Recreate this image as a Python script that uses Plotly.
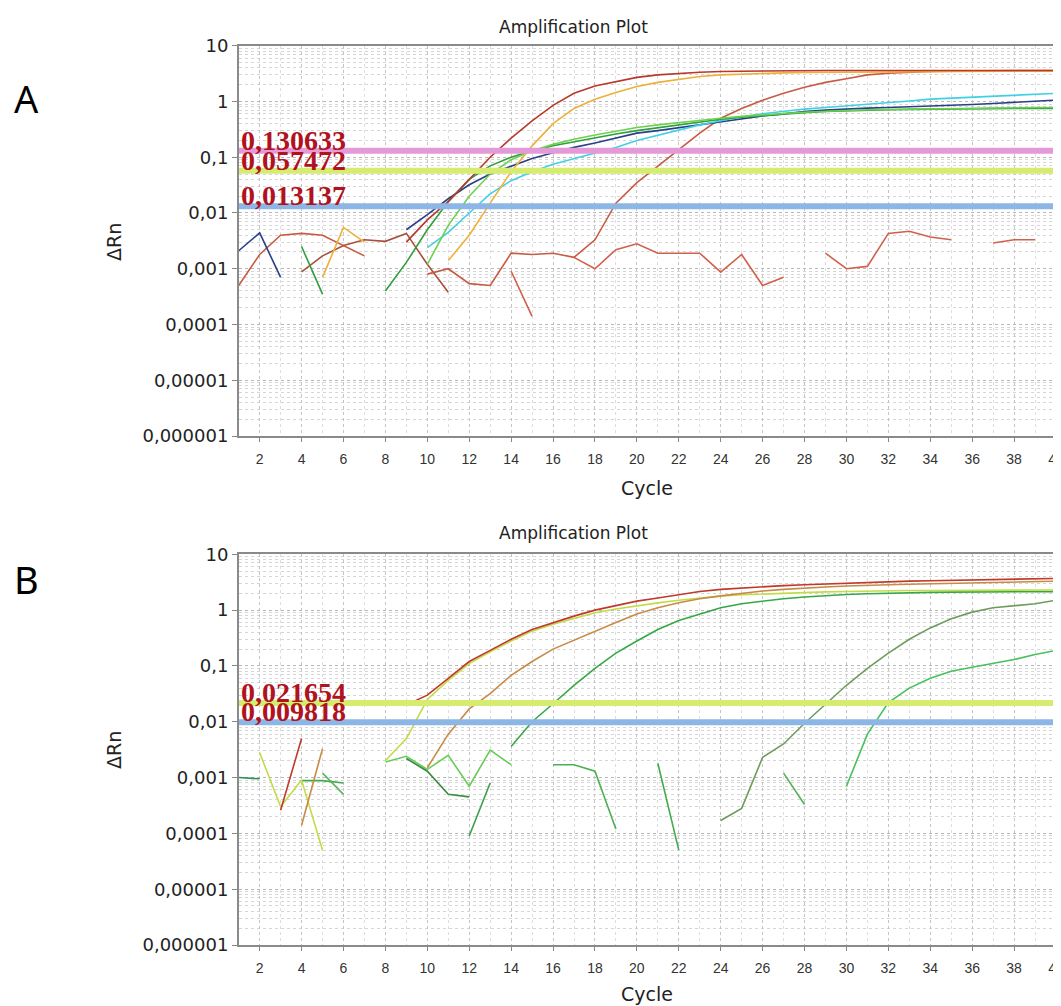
import plotly.graph_objects as go
import math

# page geometry: the figure sits inside the page body (8 px default margin)
OX, OY = 8, 8
WF, HF = 1061 - OX, 1006 - OY
CYCLES = list(range(1, 41))
N = None

# ---------------- Panel A data (ΔRn per cycle, None = not drawn) ----------------
A_NAVY = [0.0021, 0.0044, 0.0007, N, N, N, N, N, 0.005, 0.0093, 0.018, 0.032, 0.05, 0.07, 0.095,
          0.12, 0.15, 0.18, 0.22, 0.27, 0.30, 0.34, 0.38, 0.44, 0.50, 0.55, 0.60, 0.66, 0.70, 0.74,
          0.76, 0.78, 0.80, 0.82, 0.85, 0.88, 0.92, 0.97, 1.02, 1.06]
A_CYAN = [N, N, N, N, N, N, N, N, N, 0.0024, 0.0045, 0.01, 0.022, 0.038, 0.055, 0.075, 0.095, 0.12,
          0.15, 0.20, 0.25, 0.31, 0.38, 0.45, 0.53, 0.60, 0.67, 0.73, 0.78, 0.83, 0.88, 0.95, 1.02,
          1.10, 1.15, 1.20, 1.25, 1.30, 1.35, 1.40]
A_GREEN = [N, N, N, 0.0025, 0.00035, N, N, 0.0004, 0.0013, 0.005, 0.016, 0.04, 0.07, 0.10, 0.13,
           0.16, 0.19, 0.22, 0.26, 0.30, 0.34, 0.38, 0.43, 0.48, 0.52, 0.56, 0.60, 0.63, 0.66, 0.68,
           0.70, 0.71, 0.72, 0.73, 0.73, 0.74, 0.74, 0.75, 0.75, 0.75]
A_LIME = [N, N, N, N, N, N, N, N, N, 0.0012, 0.006, 0.02, 0.05, 0.09, 0.13, 0.17, 0.21, 0.25, 0.29,
          0.34, 0.38, 0.42, 0.46, 0.50, 0.54, 0.58, 0.61, 0.64, 0.67, 0.69, 0.71, 0.72, 0.73, 0.74,
          0.75, 0.76, 0.77, 0.77, 0.78, 0.78]
A_ORANGE = [N, N, N, N, 0.0007, 0.0055, 0.003, N, N, N, 0.0014, 0.004, 0.015, 0.055, 0.16, 0.40,
            0.75, 1.1, 1.45, 1.85, 2.2, 2.5, 2.8, 3.0, 3.1, 3.2, 3.25, 3.3, 3.3, 3.35, 3.35, 3.4,
            3.4, 3.4, 3.45, 3.45, 3.45, 3.5, 3.5, 3.5]
A_DARKRED = [N, N, N, N, N, N, N, N, 0.003, 0.0075, 0.016, 0.04, 0.10, 0.22, 0.45, 0.85, 1.4, 1.9,
             2.3, 2.7, 3.0, 3.2, 3.35, 3.45, 3.5, 3.55, 3.55, 3.55, 3.6, 3.6, 3.6, 3.6, 3.6, 3.6,
             3.6, 3.6, 3.6, 3.6, 3.6, 3.6]
A_BROWN = [N, N, N, 0.00088, 0.0017, 0.0026, 0.0033, 0.0031, 0.0043, 0.0012, 0.00038] + [N] * 29
A_SALMON = [0.0005, 0.0018, 0.004, 0.0043, 0.004, 0.0026, 0.0017, N, N, 0.0008, 0.001, 0.00054,
            0.0005, 0.0019, 0.0018, 0.0019, 0.0016, 0.0033, 0.015, 0.035, 0.07, 0.14, 0.27, 0.5,
            0.75, 1.05, 1.4, 1.8, 2.2, 2.55, 3.0, 3.2, 3.35, 3.45, 3.5, 3.55, 3.55, 3.6, 3.6, 3.6]
A_RED2 = [N] * 13 + [0.0009, 0.00014] + [N] * 25
A_RED3 = [N] * 16 + [0.0016, 0.001, 0.0022, 0.0028, 0.0019, 0.0019, 0.0019, 0.00087, 0.0018,
                     0.0005, 0.0007, N, 0.0019, 0.001, 0.0011, 0.0043, 0.0047, 0.0037, 0.0033, N,
                     0.0029, 0.0033, 0.0033, N]

A_THRESH = [0.130633, 0.057472, 0.013137]
A_THRESH_LABELS = ["0,130633", "0,057472", "0,013137"]

# ---------------- Panel B data ----------------
B_RED = [N, N, 0.00026, 0.005, N, N, N, N, 0.02, 0.03, 0.06, 0.12, 0.19, 0.30, 0.45, 0.60, 0.78,
         1.0, 1.2, 1.45, 1.65, 1.9, 2.15, 2.35, 2.5, 2.65, 2.75, 2.85, 2.95, 3.05, 3.15, 3.25, 3.3,
         3.35, 3.4, 3.42, 3.45, 3.5, 3.6, 3.7]
B_YELLOW = [N, 0.0028, 0.0003, 0.0009, 0.00005, N, N, 0.002, 0.005, 0.025, 0.055, 0.11, 0.18, 0.28,
            0.42, 0.56, 0.72, 0.9, 1.05, 1.2, 1.35, 1.5, 1.65, 1.78, 1.88, 1.95, 2.02, 2.08, 2.12,
            2.16, 2.2, 2.22, 2.24, 2.25, 2.26, 2.27, 2.28, 2.29, 2.3, 2.3]
B_ORANGE = [N, N, N, 0.00014, 0.0033, N, N, N, N, 0.0015, 0.006, 0.017, 0.032, 0.068, 0.12, 0.2,
            0.29, 0.42, 0.6, 0.85, 1.1, 1.35, 1.6, 1.8, 2.0, 2.2, 2.35, 2.5, 2.6, 2.7, 2.8, 2.85,
            2.9, 2.95, 3.0, 3.05, 3.1, 3.15, 3.2, 3.3]
B_GREEN = [N] * 13 + [0.0036, 0.01, 0.021, 0.045, 0.09, 0.17, 0.28, 0.45, 0.65, 0.85, 1.1, 1.3,
                      1.45, 1.6, 1.72, 1.82, 1.9, 1.97, 2.02, 2.05, 2.08, 2.1, 2.11, 2.12, 2.13,
                      2.14, 2.15]
B_OLIVE = [N] * 23 + [0.00017, 0.00028, 0.0023, 0.004, 0.0094, 0.021, 0.045, 0.09, 0.17, 0.3, 0.48,
                      0.7, 0.92, 1.1, 1.2, 1.3, 1.5]
B_LATE = [N] * 29 + [0.0007, 0.006, 0.022, 0.04, 0.06, 0.08, 0.095, 0.11, 0.13, 0.16, 0.19]

# short noise segments of panel B (cycle lists and ΔRn lists)
B_N1_X, B_N1_Y = [1, 2], [0.001, 0.00095]
B_N2_X, B_N2_Y = [4, 5, 6], [0.00088, 0.00088, 0.0008]
B_N3_X, B_N3_Y = [5, 6], [0.0012, 0.0005]
B_N4_X, B_N4_Y = [8, 9, 10, 11, 12, 13, 14], [0.0019, 0.0024, 0.0014, 0.0025, 0.0007, 0.0031, 0.0017]
B_N5_X, B_N5_Y = [9, 10, 11, 12], [0.0022, 0.0013, 0.0005, 0.00045]
B_N6_X, B_N6_Y = [12, 13], [0.00009, 0.0008]
B_N7_X, B_N7_Y = [16, 17, 18, 19], [0.0017, 0.0017, 0.0013, 0.00012]
B_N8_X, B_N8_Y = [21, 22], [0.0018, 0.00005]
B_N9_X, B_N9_Y = [27, 28], [0.0012, 0.00033]

B_THRESH = [0.021654, 0.009818]
B_THRESH_LABELS = ["0,021654", "0,009818"]

Y_TICKVALS = [1e-6, 1e-5, 1e-4, 1e-3, 1e-2, 1e-1, 1, 10]
Y_TICKTEXT = ["0,000001", "0,00001", "0,0001", "0,001", "0,01", "0,1", "1", "10"]
X_TICKVALS = list(range(2, 41, 2))

# ---------------- figure ----------------
fig = go.Figure()


def add_curve(x, y, color, xa, ya, width=1.6):
    fig.add_trace(go.Scatter(x=x, y=y, mode="lines", line=dict(color=color, width=width),
                             connectgaps=False, xaxis=xa, yaxis=ya, hoverinfo="skip"))


top = [
    (A_RED3, "#d0604c"), (A_RED2, "#d0604c"), (A_BROWN, "#a8503a"), (A_SALMON, "#c85a44"),
    (A_NAVY, "#2a3f88"), (A_CYAN, "#3fd0e6"), (A_GREEN, "#2f9e3c"), (A_LIME, "#6ad24e"),
    (A_ORANGE, "#eeb038"), (A_DARKRED, "#b8382a"),
]
for ys, c in top:
    add_curve(CYCLES, ys, c, "x", "y")

bottom_noise = [
    (B_N1_X, B_N1_Y, "#2f8f5a"), (B_N2_X, B_N2_Y, "#3fa84c"), (B_N3_X, B_N3_Y, "#55b85a"),
    (B_N4_X, B_N4_Y, "#66cc55"), (B_N5_X, B_N5_Y, "#3a8a40"), (B_N6_X, B_N6_Y, "#3aa048"),
    (B_N7_X, B_N7_Y, "#4cb050"), (B_N8_X, B_N8_Y, "#44aa4c"), (B_N9_X, B_N9_Y, "#55b055"),
]
for xs, ys, c in bottom_noise:
    add_curve(xs, ys, c, "x2", "y2")

bottom = [
    (B_LATE, "#45c25a"), (B_OLIVE, "#6e9c5a"), (B_GREEN, "#35a845"), (B_YELLOW, "#c2dc48"),
    (B_ORANGE, "#c98a45"), (B_RED, "#c0392b"),
]
for ys, c in bottom:
    add_curve(CYCLES, ys, c, "x2", "y2")

# threshold lines
A_TH_COLORS = ["#e49ad8", "#d6ec70", "#8cb6e6"]
B_TH_COLORS = ["#d6ec70", "#8cb6e6"]
for v, c in zip(A_THRESH, A_TH_COLORS):
    fig.add_trace(go.Scatter(x=[1, 40], y=[v, v], mode="lines", line=dict(color=c, width=6),
                             xaxis="x", yaxis="y", hoverinfo="skip"))
for v, c in zip(B_THRESH, B_TH_COLORS):
    fig.add_trace(go.Scatter(x=[1, 40], y=[v, v], mode="lines", line=dict(color=c, width=6),
                             xaxis="x2", yaxis="y2", hoverinfo="skip"))

LABEL_FONT = dict(family="Liberation Serif", size=28, color="#b0121e", weight="bold")
annots = []
for v, t in zip(A_THRESH, A_THRESH_LABELS):
    annots.append(dict(x=1, y=math.log10(v), xref="x", yref="y", text=t, showarrow=False,
                       xanchor="left", yanchor="bottom", xshift=0, yshift=-7, font=LABEL_FONT))
for v, t in zip(B_THRESH, B_THRESH_LABELS):
    annots.append(dict(x=1, y=math.log10(v), xref="x2", yref="y2", text=t, showarrow=False,
                       xanchor="left", yanchor="bottom", xshift=0, yshift=-7, font=LABEL_FONT))


def px(xs):
    return (xs - OX) / WF


def py(ys):
    return 1 - (ys - OY) / HF


TXT = dict(family="DejaVu Sans", color="#222222")
for yc, yt, ylab, letter, yl in [(27, 488, 242, "A", 98), (533, 994, 750, "B", 579)]:
    annots.append(dict(x=px(573), y=py(yc), xref="paper", yref="paper", text="Amplification Plot",
                       showarrow=False, xanchor="center", yanchor="middle",
                       font=dict(size=17, **TXT)))
    annots.append(dict(x=px(647), y=py(yt), xref="paper", yref="paper", text="Cycle",
                       showarrow=False, xanchor="center", yanchor="middle",
                       font=dict(size=19, **TXT)))
    annots.append(dict(x=px(114), y=py(ylab), xref="paper", yref="paper", text="ΔRn",
                       showarrow=False, xanchor="center", yanchor="middle", textangle=-90,
                       font=dict(size=19, **TXT)))
    annots.append(dict(x=px(26), y=py(yl), xref="paper", yref="paper", text=letter,
                       showarrow=False, xanchor="center", yanchor="middle",
                       font=dict(family="Noto Sans", size=38, color="#000000")))

XDOM = [px(238.7), px(1056)]


def xaxis_cfg(anchor):
    return dict(domain=XDOM, anchor=anchor, range=[1, 40], tickvals=X_TICKVALS,
                ticks="outside", ticklen=4, tickcolor="#888888", automargin=False,
                ticklabeloverflow="allow", ticklabelstandoff=5,
                tickfont=dict(family="Liberation Sans", size=14, color="#333333"),
                showline=True, linecolor="#8a8a8a", linewidth=1.5, mirror=True,
                showgrid=True, gridcolor="#c4c4c4", griddash="dot", gridwidth=1,
                minor=dict(dtick=1, tick0=1, showgrid=True, gridcolor="#dedede", griddash="dot"),
                zeroline=False, fixedrange=True)


def yaxis_cfg(anchor, dom):
    return dict(domain=dom, anchor=anchor, type="log", range=[-6, 1], automargin=False,
                tickvals=Y_TICKVALS, ticktext=Y_TICKTEXT, ticks="outside", ticklen=5,
                tickcolor="#888888", tickfont=dict(family="DejaVu Sans", size=18, color="#222222"),
                showline=True, linecolor="#8a8a8a", linewidth=1.5, mirror=True,
                showgrid=True, gridcolor="#b8b8b8", griddash="dot", gridwidth=1,
                minor=dict(dtick="D1", showgrid=True, gridcolor="#d6d6d6", griddash="dot"),
                zeroline=False, fixedrange=True)


fig.update_layout(
    width=WF, height=HF, margin=dict(l=0, r=0, t=0, b=0, autoexpand=False),
    paper_bgcolor="white", plot_bgcolor="white", showlegend=False,
    xaxis=xaxis_cfg("y"), yaxis=yaxis_cfg("x", [py(436), py(45.7)]),
    xaxis2=xaxis_cfg("y2"), yaxis2=yaxis_cfg("x2", [py(945), py(554.3)]),
    annotations=annots,
)

fig.write_html("out.html")
